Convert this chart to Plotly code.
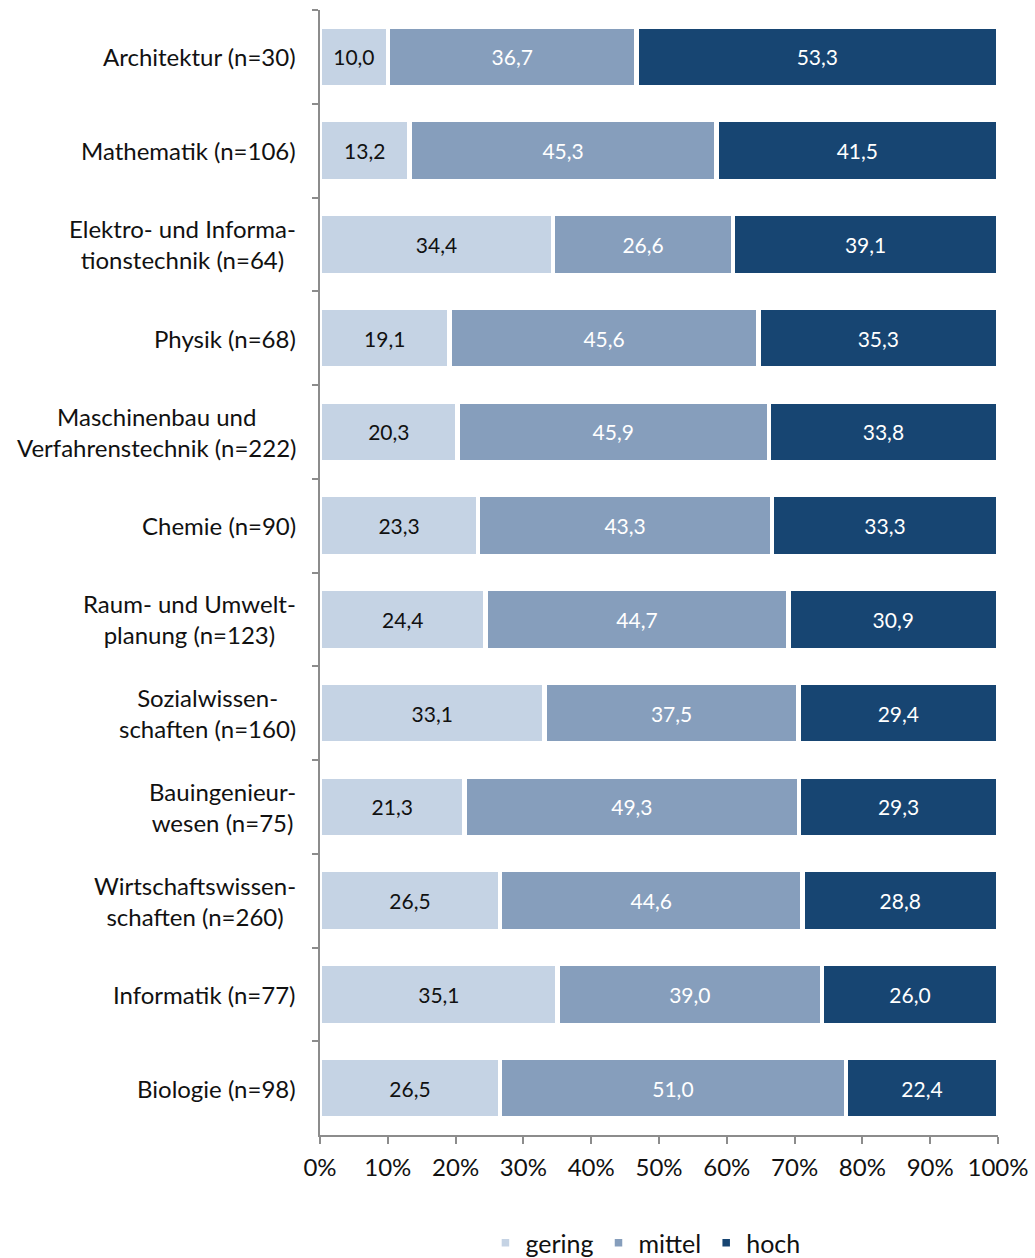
import plotly.graph_objects as go

categories = [
    "Architektur (n=30)",
    "Mathematik (n=106)",
    "Elektro- und Informa-<br>tionstechnik (n=64)",
    "Physik (n=68)",
    "Maschinenbau und<br>Verfahrenstechnik (n=222)",
    "Chemie (n=90)",
    "Raum- und Umwelt-<br>planung (n=123)",
    "Sozialwissen-<br>schaften (n=160)",
    "Bauingenieur-<br>wesen (n=75)",
    "Wirtschaftswissen-<br>schaften (n=260)",
    "Informatik (n=77)",
    "Biologie (n=98)",
]
gering = [10.0, 13.2, 34.4, 19.1, 20.3, 23.3, 24.4, 33.1, 21.3, 26.5, 35.1, 26.5]
mittel = [36.7, 45.3, 26.6, 45.6, 45.9, 43.3, 44.7, 37.5, 49.3, 44.6, 39.0, 51.0]
hoch = [53.3, 41.5, 39.1, 35.3, 33.8, 33.3, 30.9, 29.4, 29.3, 28.8, 26.0, 22.4]
x_ticks = [0, 10, 20, 30, 40, 50, 60, 70, 80, 90, 100]

FONT = "Lato"
series = [
    ("gering", gering, "#C5D3E4", "#111111"),
    ("mittel", mittel, "#869EBC", "#FFFFFF"),
    ("hoch", hoch, "#174572", "#FFFFFF"),
]

fig = go.Figure()
for name, vals, col, tcol in series:
    fig.add_trace(go.Bar(
        name=name, y=categories, x=vals, orientation="h",
        marker=dict(color=col, line=dict(color="white", width=4.5)),
        text=[f"{v:.1f}".replace(".", ",") for v in vals],
        textposition="inside", insidetextanchor="middle",
        textfont=dict(family=FONT, size=21, color=tcol),
        textangle=0, constraintext="none",
    ))

for c in categories:
    fig.add_annotation(
        x=0, xref="paper", y=c, yref="y", text=c, showarrow=False,
        xanchor="right", yanchor="middle", align="center", xshift=-22,
        font=dict(family=FONT, size=24, color="#111111"),
    )

fig.update_layout(
    width=1035, height=1258,
    barmode="stack", barnorm="percent", bargap=0.35,
    margin=dict(l=320, r=37, t=10, b=123, autoexpand=False),
    plot_bgcolor="white", paper_bgcolor="white",
    font=dict(family=FONT, size=24, color="#111111"),
    legend=dict(orientation="h", x=0.48, xanchor="center", y=-0.096, yanchor="middle",
                font=dict(family=FONT, size=25), traceorder="normal",
                itemwidth=30),
    uniformtext=dict(mode=False),
    showlegend=True,
)
fig.update_xaxes(
    range=[0, 100], tickvals=x_ticks, ticktext=[f"{t}%" for t in x_ticks],
    showline=True, linecolor="#8C8C8C", linewidth=1.5,
    ticks="outside", ticklen=7, tickcolor="#8C8C8C", tickwidth=1.5,
    showgrid=False, zeroline=False, tickfont=dict(family=FONT, size=24),
    ticklabelstandoff=3, automargin=False,
)
fig.update_yaxes(
    autorange="reversed", showticklabels=False,
    showline=True, linecolor="#8C8C8C", linewidth=1.5,
    ticks="outside", ticklen=6, tickcolor="#8C8C8C", tickwidth=1.5,
    tickson="boundaries", showgrid=False, automargin=False,
)

fig.write_html("out.html", config={"displayModeBar": False},
               post_script="document.body.style.margin='0';")
